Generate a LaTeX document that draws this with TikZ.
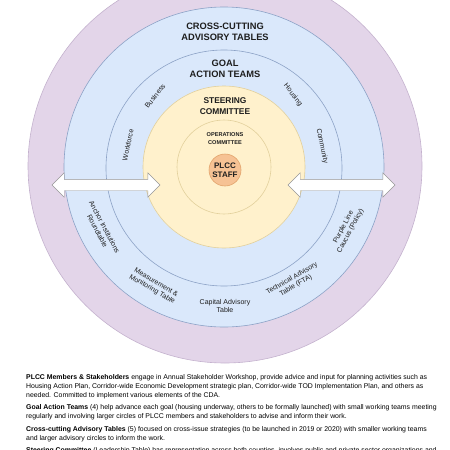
\documentclass[tikz,border=0pt]{standalone}
\usepackage{fontspec}
\setmainfont{Liberation Sans}
\usetikzlibrary{shapes.arrows}
\definecolor{RingPurple}{RGB}{227,213,233}
\definecolor{RingPurpleLine}{RGB}{196,178,206}
\definecolor{RingBlue}{RGB}{218,232,251}
\definecolor{RingBlueLine}{RGB}{140,162,198}
\definecolor{CoreYellow}{RGB}{255,241,204}
\definecolor{CoreYellowLine}{RGB}{226,208,156}
\definecolor{StaffOrange}{RGB}{246,194,148}
\definecolor{StaffOrangeLine}{RGB}{226,164,108}
\definecolor{ArrowLine}{RGB}{150,150,150}
\definecolor{TextDark}{RGB}{30,30,30}
\tikzset{
  ring/.style={circle,inner sep=0pt,semithick},
  dblarrow/.style={double arrow,draw=ArrowLine,fill=white,thin,
    inner xsep=0pt,inner ysep=5.5pt,double arrow head extend=6.5pt},
  titlelabel/.style={align=center,inner sep=0pt,text=TextDark,
    font=\bfseries\fontsize{9.3}{11}\selectfont},
  ringlabel/.style={align=center,inner sep=0pt,text=TextDark,
    font=\fontsize{7}{8}\selectfont},
  notes/.style={align=left,inner sep=0pt,text=black,
    font=\fontsize{6.9}{9}\selectfont}
}
\begin{document}
\begin{tikzpicture}[x=1pt,y=-1pt]
  \useasboundingbox (0,0) rectangle (450,450);
  % rings, outermost first
  \node[ring,draw=RingPurpleLine,fill=RingPurple,minimum size=394pt] (members) at (225,166) {};
  \node[ring,draw=RingBlueLine,fill=RingBlue,minimum size=320pt] (advisory) at (224,167) {};
  \node[ring,draw=RingBlueLine,fill=RingBlue,minimum size=236pt] (goalring) at (224,168) {};
  \node[ring,draw=CoreYellowLine,fill=CoreYellow,minimum size=162pt] (steering) at (224,167) {};
  \node[ring,draw=CoreYellowLine,fill=CoreYellow,minimum size=94pt] (operations) at (224,167) {};
  \node[ring,draw=StaffOrangeLine,fill=StaffOrange,minimum size=32pt,align=center,
    text=TextDark,font=\bfseries\fontsize{8}{9.5}\selectfont] (staff) at (225,170) {PLCC\\STAFF};
  % two-way arrows
  \node[dblarrow,minimum height=108pt] (leftarrow) at (106,185) {};
  \node[dblarrow,minimum height=107pt] (rightarrow) at (341.5,185) {};
  % ring titles
  \node[titlelabel] (advisorytitle) at (225,32) {CROSS-CUTTING\\ADVISORY TABLES};
  \node[titlelabel] (goaltitle) at (225,69) {GOAL\\ACTION TEAMS};
  \node[titlelabel,font=\bfseries\fontsize{8.4}{11}\selectfont] (steeringtitle) at (225,106) {STEERING\\COMMITTEE};
  \node[titlelabel,font=\bfseries\fontsize{5.6}{8}\selectfont] (operationstitle) at (225,139) {OPERATIONS\\COMMITTEE};
  % goal action teams
  \node[ringlabel,rotate=52] (business) at (155,96) {Business};
  \node[ringlabel,rotate=-52] (housing) at (293,95) {Housing};
  \node[ringlabel,rotate=78] (workforce) at (128,145) {Workforce};
  \node[ringlabel,rotate=-78] (community) at (322,146) {Community};
  % advisory tables
  \node[ringlabel,rotate=-62] (anchor) at (101,229) {Anchor Institutions\\Roundtable};
  \node[ringlabel,rotate=62] (purpleline) at (347,229) {Purple Line\\Caucus (Policy)};
  \node[ringlabel,rotate=-30] (measurement) at (154,286) {Measurement \&\\Monitoring Table};
  \node[ringlabel] (capital) at (225,306) {Capital Advisory\\Table};
  \node[ringlabel,rotate=30] (technical) at (294,282) {Technical Advisory\\Table (FTA)};
  % notes under the diagram
  \node[notes,anchor=north west] (notes) at (26,374) {%
    \textbf{PLCC Members \& Stakeholders} engage in Annual Stakeholder Workshop, provide advice and input for planning activities such as\\
    Housing Action Plan, Corridor-wide Economic Development strategic plan, Corridor-wide TOD Implementation Plan, and others as\\
    needed. Committed to implement various elements of the CDA.\\[3.5pt]
    \textbf{Goal Action Teams} (4) help advance each goal (housing underway, others to be formally launched) with small working teams meeting\\
    regularly and involving larger circles of PLCC members and stakeholders to advise and inform their work.\\[3.5pt]
    \textbf{Cross-cutting Advisory Tables} (5) focused on cross-issue strategies (to be launched in 2019 or 2020) with smaller working teams\\
    and larger advisory circles to inform the work.\\[3.5pt]
    \textbf{Steering Committee} (Leadership Table) has representation across both counties, involves public and private sector organizations and};
\end{tikzpicture}
\end{document}
